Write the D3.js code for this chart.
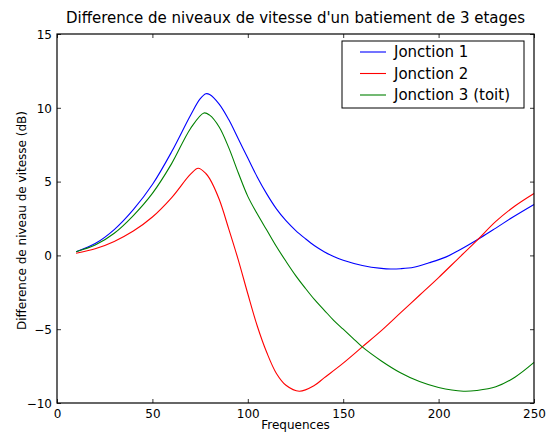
<!DOCTYPE html>
<html><head><meta charset="utf-8">
<script src="https://cdn.jsdelivr.net/npm/d3@7"></script>
<style>body{margin:0;background:#fff}svg{display:block}text{font-family:"DejaVu Sans",sans-serif}</style>
</head><body><svg id="c" width="551" height="432"></svg>
<script>
const title = "Difference de niveaux de vitesse d'un batiement de 3 etages";
const xLabel = "Frequences";
const yLabel = "Difference de niveau de vitesse (dB)";
const xTicks = [0, 50, 100, 150, 200, 250];
const yTicks = [-10, -5, 0, 5, 10, 15];
const seriesNames = ["Jonction 1", "Jonction 2", "Jonction 3 (toit)"];
const seriesColors = ["#0000ff", "#ff0000", "#008000"];

const freqJ1 = [10,20,30,40,50,60,70,75,78,80,85,90,95,100,105,110,115,120,125,130,135,140,145,150,160,170,175,180,187,195,204,210,222,230,239,250];
const valJ1  = [0.25,0.8,1.75,3.1,4.8,7.0,9.5,10.6,10.95,10.9,10.25,9.2,7.9,6.6,5.3,4.15,3.15,2.35,1.7,1.15,0.65,0.25,-0.07,-0.33,-0.68,-0.88,-0.92,-0.9,-0.8,-0.5,-0.1,0.3,1.2,1.85,2.6,3.45];

const freqJ2 = [10,20,30,40,50,60,70,74,78,80,85,90,95,100,105,110,115,120,127,135,140,150,160,170,180,190,200,210,220,230,240,250];
const valJ2  = [0.15,0.45,0.95,1.65,2.6,3.9,5.5,5.9,5.55,5.2,3.8,1.8,-0.3,-2.6,-4.8,-6.6,-8.0,-8.8,-9.2,-8.8,-8.3,-7.3,-6.2,-5.1,-3.9,-2.7,-1.5,-0.25,1.0,2.3,3.35,4.2];

const freqJ3 = [10,20,30,40,50,60,70,77,80,85,90,95,100,105,110,115,120,125,130,135,140,145,150,155,160,170,180,190,200,213,220,230,240,250];
const valJ3  = [0.25,0.7,1.5,2.7,4.2,6.2,8.6,9.65,9.5,8.7,7.3,5.6,4.0,2.8,1.7,0.6,-0.4,-1.35,-2.2,-3.0,-3.7,-4.4,-5.0,-5.6,-6.2,-7.15,-7.95,-8.55,-8.95,-9.2,-9.15,-8.9,-8.25,-7.25];

const series = [
  {name: seriesNames[0], color: seriesColors[0], x: freqJ1, y: valJ1},
  {name: seriesNames[1], color: seriesColors[1], x: freqJ2, y: valJ2},
  {name: seriesNames[2], color: seriesColors[2], x: freqJ3, y: valJ3}
];

const svg = d3.select("#c");
const L = 57, R = 534, T = 34, B = 403;
const x = d3.scaleLinear().domain([0, 250]).range([L, R]);
const y = d3.scaleLinear().domain([-10, 15]).range([B, T]);

const line = d3.line().x(d => x(d[0])).y(d => y(d[1])).curve(d3.curveCatmullRom.alpha(0.5));
series.forEach(s => {
  svg.append("path")
    .datum(s.x.map((v, i) => [v, s.y[i]]))
    .attr("d", line).attr("fill", "none")
    .attr("stroke", s.color).attr("stroke-width", 1.1);
});

// axes (ticks inside, on all four sides)
const tl = 4;
const gB = svg.append("g").attr("transform", `translate(0,${B})`)
  .call(d3.axisBottom(x).tickValues(xTicks).tickSize(-tl).tickPadding(6).tickFormat(d3.format("d")));
const gT = svg.append("g").attr("transform", `translate(0,${T})`)
  .call(d3.axisTop(x).tickValues(xTicks).tickSize(-tl).tickFormat(""));
const gL = svg.append("g").attr("transform", `translate(${L},0)`)
  .call(d3.axisLeft(y).tickValues(yTicks).tickSize(-tl).tickPadding(5).tickFormat(d3.format("d")));
const gR = svg.append("g").attr("transform", `translate(${R},0)`)
  .call(d3.axisRight(y).tickValues(yTicks).tickSize(-tl).tickFormat(""));
[gB, gT, gL, gR].forEach(g => {
  g.select(".domain").remove();
  g.selectAll("line").attr("stroke", "#000").attr("stroke-width", 0.8);
  g.selectAll("text").attr("font-family", "DejaVu Sans").attr("font-size", 12).attr("fill", "#000");
});
gL.selectAll("text").attr("dy", "0.35em");

svg.append("rect").attr("x", L).attr("y", T).attr("width", R - L).attr("height", B - T)
  .attr("fill", "none").attr("stroke", "#000").attr("stroke-width", 1.2);

svg.append("text").attr("x", (L + R) / 2).attr("y", 23).attr("text-anchor", "middle")
  .attr("font-size", 15).text(title);
svg.append("text").attr("x", (L + R) / 2).attr("y", 429).attr("text-anchor", "middle")
  .attr("font-size", 12).text(xLabel);
svg.append("text").attr("transform", `translate(26,${(T + B) / 2 + 2}) rotate(-90)`).attr("text-anchor", "middle")
  .attr("font-size", 12).text(yLabel);

// legend
const lg = svg.append("g");
lg.append("rect").attr("x", 342).attr("y", 41).attr("width", 182).attr("height", 67)
  .attr("fill", "#fff").attr("stroke", "#000").attr("stroke-width", 1);
series.forEach((s, i) => {
  const yy = 52 + i * 21.5;
  lg.append("line").attr("x1", 360).attr("x2", 386).attr("y1", yy).attr("y2", yy)
    .attr("stroke", s.color).attr("stroke-width", 1.1);
  lg.append("text").attr("x", 394).attr("y", yy).attr("dy", "0.35em")
    .attr("font-size", 15).text(s.name);
});
</script></body></html>
